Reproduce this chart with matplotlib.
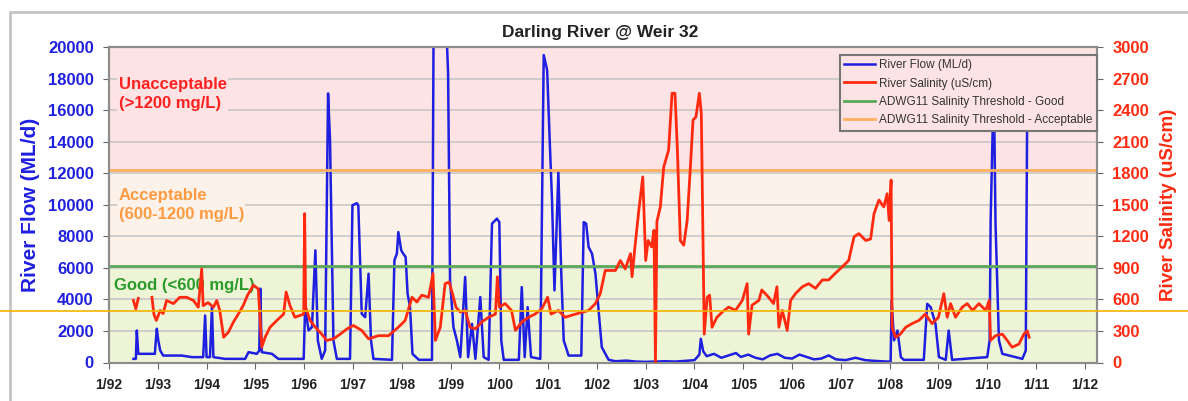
import numpy as np
import matplotlib
matplotlib.use("Agg")
import matplotlib.pyplot as plt
from matplotlib.lines import Line2D
from matplotlib.patches import Rectangle

plt.rcParams["font.family"] = ["Liberation Sans", "DejaVu Sans"]

OUTPUT_FILE = "out.png"

# river flow (ML/d), decimal years
flow_years = [
    1992.50, 1992.55, 1992.57, 1992.60, 1992.94, 1992.96, 1992.98, 1993.01, 1993.05, 1993.11,
    1993.49, 1993.70, 1993.93, 1993.97, 1994.00, 1994.07, 1994.11, 1994.14, 1994.38, 1994.79,
    1994.86, 1995.03, 1995.08, 1995.10, 1995.13, 1995.34, 1995.47, 1995.99, 1996.02, 1996.09,
    1996.16, 1996.23, 1996.28, 1996.36, 1996.43, 1996.49, 1996.53, 1996.60, 1996.67, 1996.94,
    1996.99, 1997.08, 1997.11, 1997.18, 1997.25, 1997.32, 1997.37, 1997.42, 1997.80, 1997.85,
    1997.90, 1997.93, 1997.99, 1998.03, 1998.08, 1998.12, 1998.17, 1998.22, 1998.35, 1998.62,
    1998.66, 1998.81, 1998.95, 1998.99, 1999.06, 1999.13, 1999.20, 1999.30, 1999.36, 1999.44,
    1999.51, 1999.61, 1999.68, 1999.78, 1999.85, 1999.95, 2000.00, 2000.04, 2000.09, 2000.40,
    2000.46, 2000.52, 2000.58, 2000.65, 2000.84, 2000.91, 2000.98, 2001.03, 2001.08, 2001.13,
    2001.17, 2001.21, 2001.27, 2001.32, 2001.42, 2001.68, 2001.73, 2001.78, 2001.83, 2001.90,
    2001.97, 2002.03, 2002.10, 2002.24, 2002.38, 2002.60, 2002.80, 2003.00, 2003.20, 2003.40,
    2003.60, 2003.80, 2004.00, 2004.10, 2004.13, 2004.18, 2004.25, 2004.40, 2004.55, 2004.70,
    2004.85, 2004.95, 2005.10, 2005.25, 2005.40, 2005.55, 2005.70, 2005.85, 2006.00, 2006.15,
    2006.30, 2006.45, 2006.60, 2006.75, 2006.90, 2007.10, 2007.30, 2007.50, 2007.70, 2008.02,
    2008.04, 2008.09, 2008.16, 2008.23, 2008.29, 2008.70, 2008.77, 2008.84, 2008.94, 2009.01,
    2009.15, 2009.21, 2009.28, 2009.60, 2010.00, 2010.05, 2010.07, 2010.11, 2010.14, 2010.17,
    2010.24, 2010.31, 2010.72, 2010.79, 2010.82,
]
flow_vals = [
    230, 230, 2030, 550, 550, 1400, 2140, 1400, 760, 440,
    440, 340, 340, 2980, 340, 340, 3510, 340, 230, 230,
    655, 550, 760, 4680, 655, 550, 230, 230, 3510, 2030,
    2240, 7110, 1400, 230, 760, 17060, 14100, 1400, 230, 230,
    9970, 10100, 9950, 3090, 2870, 5630, 1400, 230, 170, 6480,
    6900, 8270, 7110, 6900, 6690, 4360, 3510, 550, 170, 170,
    26000, 30000, 18330, 5210, 2240, 1400, 340, 5420, 340, 2450,
    230, 4150, 340, 170, 8800, 9120, 8900, 1400, 170, 170,
    4780, 340, 3510, 340, 230, 19490, 18540, 14310, 10290, 4570,
    8170, 12080, 5630, 1400, 440, 440, 8900, 8800, 7320, 6900,
    5630, 3510, 970, 170, 80, 120, 60, 40, 60, 80,
    60, 100, 150, 500, 1500, 700, 400, 550, 300, 450,
    600, 350, 500, 300, 200, 450, 550, 300, 250, 500,
    350, 200, 250, 450, 200, 150, 300, 150, 100, 50,
    3940, 1400, 2030, 340, 170, 170, 3720, 3510, 2450, 340,
    170, 2030, 170, 250, 340, 1400, 9020, 14500, 16500, 8800,
    1400, 550, 230, 760, 16500,
]

# river salinity (uS/cm), decimal years
sal_years = [
    1992.50, 1992.55, 1992.60, 1992.70, 1992.88, 1992.92, 1992.97, 1993.05, 1993.11, 1993.18,
    1993.32, 1993.45, 1993.59, 1993.73, 1993.83, 1993.90, 1993.93, 1994.03, 1994.14, 1994.21,
    1994.27, 1994.35, 1994.45, 1994.55, 1994.65, 1994.75, 1994.84, 1994.96, 1995.06, 1995.13,
    1995.20, 1995.30, 1995.44, 1995.58, 1995.63, 1995.71, 1995.81, 1995.99, 1996.01, 1996.03,
    1996.12, 1996.23, 1996.36, 1996.46, 1996.60, 1996.74, 1996.88, 1997.01, 1997.18, 1997.32,
    1997.52, 1997.73, 1997.93, 1998.07, 1998.21, 1998.31, 1998.41, 1998.55, 1998.64, 1998.69,
    1998.79, 1998.89, 1998.97, 1999.04, 1999.11, 1999.20, 1999.30, 1999.40, 1999.51, 1999.64,
    1999.78, 1999.92, 1999.96, 2000.00, 2000.12, 2000.25, 2000.33, 2000.46, 2000.60, 2000.73,
    2000.87, 2000.99, 2001.06, 2001.21, 2001.35, 2001.56, 2001.83, 2001.97, 2002.07, 2002.17,
    2002.38, 2002.48, 2002.58, 2002.69, 2002.72, 2002.78, 2002.86, 2002.94, 2003.00, 2003.05,
    2003.12, 2003.17, 2003.20, 2003.23, 2003.30, 2003.37, 2003.47, 2003.54, 2003.60, 2003.65,
    2003.71, 2003.78, 2003.85, 2003.92, 2003.97, 2004.03, 2004.10, 2004.14, 2004.17, 2004.20,
    2004.26, 2004.31, 2004.36, 2004.46, 2004.57, 2004.70, 2004.84, 2004.98, 2005.08, 2005.11,
    2005.18, 2005.32, 2005.38, 2005.52, 2005.62, 2005.69, 2005.73, 2005.80, 2005.90, 2005.97,
    2006.07, 2006.21, 2006.34, 2006.48, 2006.62, 2006.75, 2006.89, 2007.03, 2007.16, 2007.27,
    2007.37, 2007.51, 2007.61, 2007.68, 2007.78, 2007.88, 2007.95, 2007.99, 2008.03, 2008.05,
    2008.12, 2008.22, 2008.33, 2008.46, 2008.60, 2008.73, 2008.87, 2009.00, 2009.11, 2009.18,
    2009.25, 2009.35, 2009.49, 2009.59, 2009.70, 2009.83, 2009.97, 2010.04, 2010.07, 2010.17,
    2010.31, 2010.41, 2010.51, 2010.65, 2010.75, 2010.82, 2010.86,
]
sal_vals = [
    590, 510, 610, np.nan, 620, 460, 400, 495, 465, 590,
    560, 620, 620, 590, 525, 890, 540, 570, 525, 590,
    495, 240, 290, 385, 460, 540, 640, 735, 700, 145,
    240, 335, 400, 460, 670, 540, 430, 460, 1415, 527,
    400, 335, 270, 210, 225, 270, 320, 352, 305, 225,
    255, 255, 335, 400, 620, 575, 640, 620, 845, 210,
    335, 750, 765, 655, 527, 480, 495, 335, 320, 385,
    430, 460, 815, 527, 560, 495, 305, 385, 430, 460,
    510, 620, 460, 495, 430, 460, 495, 560, 655, 875,
    875, 970, 890, 1035, 815, 1100, 1450, 1765, 970, 1160,
    1100, 1257, 0, 1340, 1480, 1860, 2020, 2560, 2560, 2020,
    1160, 1115, 1350, 1890, 2305, 2335, 2560, 2370, 1290, 270,
    620, 640, 335, 430, 480, 527, 495, 590, 750, 270,
    545, 590, 690, 620, 560, 720, 335, 495, 305, 590,
    655, 720, 750, 705, 785, 785, 850, 910, 970, 1195,
    1225, 1160, 1175, 1415, 1545, 1480, 1605, 1350, 1735, 335,
    240, 270, 335, 370, 400, 460, 370, 430, 655, 430,
    560, 430, 527, 560, 495, 560, 495, 590, 210, 255,
    270, 210, 145, 175, 270, 300, 240,
]

GOOD_LIMIT = 915
ACCEPT_LIMIT = 1835
SAL_MAX = 3000
FLOW_MAX = 20000

tick_years = list(range(1992, 2013))
tick_labels = ["1/%02d" % (y % 100) for y in tick_years]

BLUE = "#1f1fe0"
RED = "#ff2a10"
GREEN = "#5aa85a"
ORANGE = "#ffb060"

fig = plt.figure(figsize=(11.88, 4.01), dpi=100)
ax = fig.add_axes([109 / 1188, 1 - 362.5 / 401, (1097 - 109) / 1188, (362.5 - 47) / 401])
ax2 = ax.twinx()

flow_per_sal = FLOW_MAX / SAL_MAX

# zone bands
ax.axhspan(0, GOOD_LIMIT * flow_per_sal, color="#eef5d6", zorder=0)
ax.axhspan(GOOD_LIMIT * flow_per_sal, ACCEPT_LIMIT * flow_per_sal, color="#fdf2ea", zorder=0)
ax.axhspan(ACCEPT_LIMIT * flow_per_sal, FLOW_MAX, color="#fde3e3", zorder=0)

ax.yaxis.grid(True, color="#c8c8c8", linewidth=1.2, zorder=1)
ax.set_axisbelow(True)

ax.plot(flow_years, flow_vals, color=BLUE, linewidth=1.8, zorder=3, label="River Flow (ML/d)")
ax2.plot(sal_years, sal_vals, color=RED, linewidth=2.0, zorder=3, label="River Salinity (uS/cm)")
ax2.axhline(GOOD_LIMIT, color=GREEN, linewidth=2, zorder=2, label="ADWG11 Salinity Threshold - Good")
ax2.axhline(ACCEPT_LIMIT, color=ORANGE, linewidth=2, zorder=2, label="ADWG11 Salinity Threshold - Acceptable")

ax.set_xlim(1992, 2012.25)
ax.set_ylim(0, FLOW_MAX)
ax2.set_ylim(0, SAL_MAX)

ax.set_xticks(tick_years)
ax.set_xticklabels(tick_labels, fontsize=10, fontweight="bold", color="#222222")
ax.set_yticks(range(0, FLOW_MAX + 1, 2000))
ax.tick_params(axis="y", labelsize=12, labelcolor=BLUE, length=4, pad=7, color="#666666")
for t in ax.get_yticklabels():
    t.set_fontweight("bold")
ax.tick_params(axis="x", length=4, pad=7, color="#666666")
ax2.set_yticks(range(0, SAL_MAX + 1, 300))
ax2.tick_params(axis="y", labelsize=12, labelcolor=RED, length=4, pad=7, color="#666666")
for t in ax2.get_yticklabels():
    t.set_fontweight("bold")

for a in (ax, ax2):
    for s in a.spines.values():
        s.set_color("#8c8c8c")
        s.set_linewidth(1.5)

ax.set_ylabel("River Flow (ML/d)", color=BLUE, fontsize=15, fontweight="bold", labelpad=6)
ax2.set_ylabel("River Salinity (uS/cm)", color=RED, fontsize=13.5, fontweight="bold", labelpad=8)

# zone labels
ax.text(1992.2, 17000, "Unacceptable\n(>1200 mg/L)", color="#ff2020", fontsize=12,
        fontweight="bold", va="center", ha="left", linespacing=1.35, zorder=2,
        bbox=dict(facecolor="#fde3e3", edgecolor="none", pad=1))
ax.text(1992.2, 10000, "Acceptable\n(600-1200 mg/L)", color="#ff9a40", fontsize=12,
        fontweight="bold", va="center", ha="left", linespacing=1.35, zorder=2,
        bbox=dict(facecolor="#fdf2ea", edgecolor="none", pad=1))
ax.text(1992.1, 4850, "Good (<600 mg/L)", color="#2a9a2a", fontsize=12,
        fontweight="bold", va="center", ha="left", zorder=2)

h1, l1 = ax.get_legend_handles_labels()
h2, l2 = ax2.get_legend_handles_labels()
leg = ax2.legend(h1 + h2, l1 + l2, loc="upper right", bbox_to_anchor=(1.0, 0.975),
                 fontsize=8.5, frameon=True, fancybox=False, borderaxespad=0,
                 handlelength=2.6, handletextpad=0.4, labelspacing=0.55,
                 borderpad=0.35, labelcolor="#333333")
leg.get_frame().set_facecolor("#fde3e3")
leg.get_frame().set_alpha(1)
leg.get_frame().set_edgecolor("#777777")
leg.get_frame().set_linewidth(1.5)
leg.set_zorder(10)

fig.text(600 / 1188, 1 - 33 / 401, "Darling River @ Weir 32", fontsize=12.5,
         fontweight="bold", color="#222222", ha="center", va="center")

# outer chart frame and stray marker line
fig.add_artist(Rectangle((10 / 1188, -0.1), 1.2, 1 - 12 / 401 + 0.1, transform=fig.transFigure,
                         facecolor="none", edgecolor="#c4c4c4", linewidth=2))
fig.add_artist(Line2D([0, 1], [1 - 311 / 401, 1 - 311 / 401], transform=fig.transFigure,
                      color="#f5b400", linewidth=1.2))

plt.savefig(OUTPUT_FILE, dpi=100)
